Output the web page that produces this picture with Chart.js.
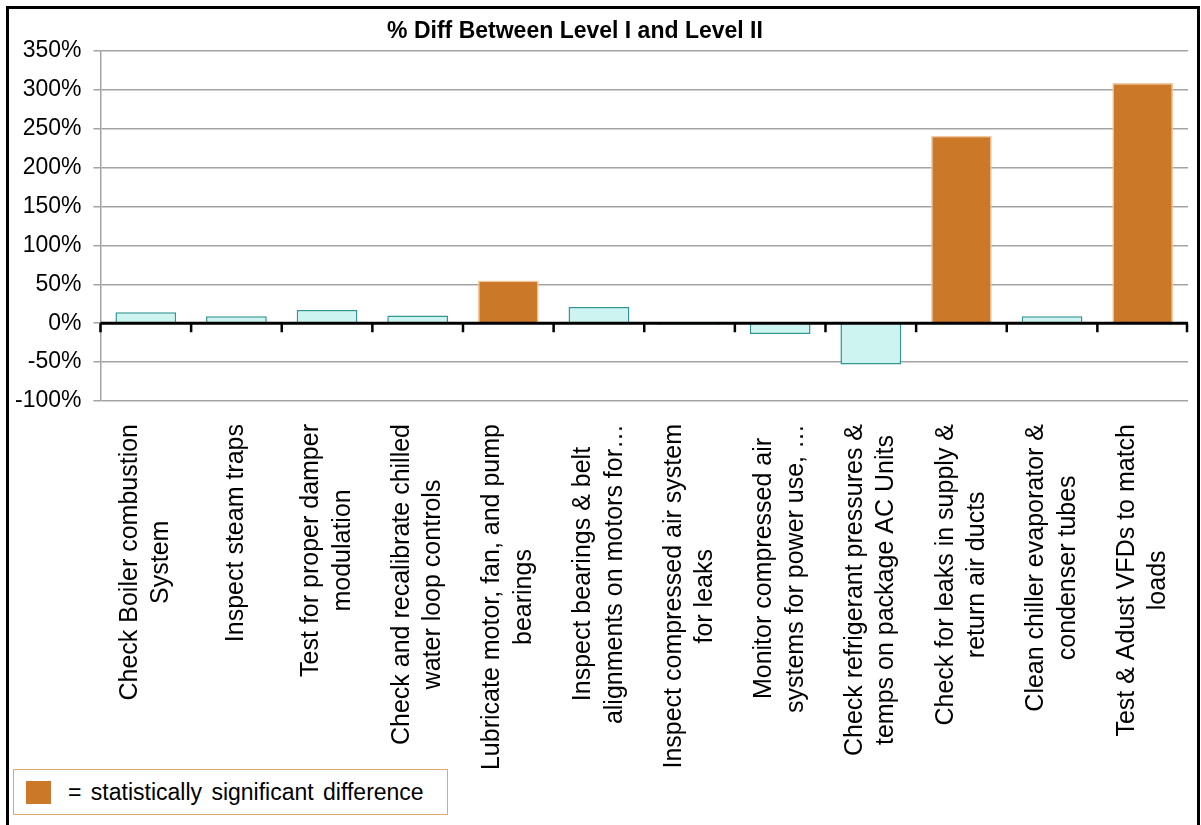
<!DOCTYPE html>
<html lang="en">
<head>
	<meta charset="utf-8">
	<title>% Diff Between Level I and Level II</title>
	<script src="https://cdn.jsdelivr.net/npm/chart.js@4.4.1/dist/chart.umd.min.js"></script>
	<style>
		body { margin: 0; background: #fff; overflow: hidden; font-family: "Liberation Sans", Arial, sans-serif; }
		#frame { position: absolute; left: 6px; top: 6px; width: 1188px; height: 900px; border: 3px solid #000; pointer-events: none; }
		#wrap { position: absolute; left: 0; top: 0; width: 1201px; height: 825px; }
		#key { position: absolute; left: 13px; top: 769px; width: 433px; height: 44px; border: 1.5px solid #e3a86e; background: #fff; }
		#key .swatch { position: absolute; left: 12px; top: 11px; width: 25px; height: 23px; background: #cb7929; }
		#key .txt { position: absolute; left: 54px; top: 9px; font-size: 23px; word-spacing: 3px; color: #000; white-space: nowrap; }
	</style>
</head>
<body>
	<div id="wrap"><canvas id="diffChart"></canvas></div>
	<div id="frame"></div>
	<div id="key"><div class="swatch"></div><div class="txt">= statistically significant difference</div></div>
	<script>
    var labels = [
    	["Check Boiler combustion", "System"],
    	["Inspect steam traps"],
    	["Test for proper damper", "modulation"],
    	["Check and recalibrate chilled", "water loop controls"],
    	["Lubricate motor, fan, and pump", "bearings"],
    	["Inspect bearings & belt", "alignments on motors for\u2026"],
    	["Inspect compressed air system", "for leaks"],
    	["Monitor compressed air", "systems for power use, \u2026"],
    	["Check refrigerant pressures &", "temps on package AC Units"],
    	["Check for leaks in supply &", "return air ducts"],
    	["Clean chiller evaporator &", "condenser tubes"],
    	["Test & Adust VFDs to match", "loads"]
    ];
    var pctDiff = [14, 9, 17, 10, 55, 21, -2, -14, -53, 241, 9, 309];
    var significant = [false, false, false, false, true, false, false, false, false, true, false, true];
    var yTicks = [-100, -50, 0, 50, 100, 150, 200, 250, 300, 350];

    var fontFamily = '"Liberation Sans", Arial, sans-serif';

    // black zero axis with category tick marks, drawn over the bars
    var zeroAxis = {
    	id: 'zeroAxis',
    	afterDatasetsDraw: function(chart) {
    		var ctx = chart.ctx;
    		var area = chart.chartArea;
    		var x = chart.scales.x;
    		var y0 = chart.scales.y.getPixelForValue(0);
    		var step = x.getPixelForValue(1) - x.getPixelForValue(0);
    		var start = x.getPixelForValue(0) - step / 2;
    		ctx.save();
    		ctx.strokeStyle = '#000';
    		ctx.lineWidth = 3;
    		ctx.beginPath();
    		ctx.moveTo(area.left, y0);
    		ctx.lineTo(area.right, y0);
    		ctx.stroke();
    		ctx.lineWidth = 2.5;
    		ctx.beginPath();
    		for (var i = 0; i <= labels.length; i++) {
    			var px = Math.min(start + i * step, area.right - 1);
    			ctx.moveTo(px, y0);
    			ctx.lineTo(px, y0 + 9);
    		}
    		ctx.stroke();
    		ctx.restore();
    	}
    };

    // vertical category labels, lines centred on each other, plus the title
    var textLayer = {
    	id: 'textLayer',
    	afterDraw: function(chart) {
    		var ctx = chart.ctx;
    		var x = chart.scales.x;
    		var y = chart.scales.y;
    		ctx.save();
    		ctx.fillStyle = '#000';
    		ctx.font = '25px ' + fontFamily;
    		ctx.textAlign = 'center';
    		ctx.textBaseline = 'middle';
    		chart.data.labels.forEach(function(lab, i) {
    			var lines = Array.isArray(lab) ? lab : [lab];
    			var w = Math.max.apply(null, lines.map(function(l) { return ctx.measureText(l).width; }));
    			var cx = x.getPixelForValue(i);
    			var midY = y.bottom + 23 + w / 2;
    			lines.forEach(function(line, j) {
    				ctx.save();
    				ctx.translate(cx + (j - (lines.length - 1) / 2) * 31.5, midY);
    				ctx.rotate(-Math.PI / 2);
    				ctx.fillText(line, 0, 0);
    				ctx.restore();
    			});
    		});
    		ctx.font = 'bold 23px ' + fontFamily;
    		ctx.fillText('% Diff Between Level I and Level II', 575, 32);
    		ctx.restore();
    	}
    };

    new Chart(document.getElementById('diffChart'), {
    	type: 'bar',
    	data: {
    		labels: labels,
    		datasets: [{
    			data: pctDiff,
    			backgroundColor: significant.map(function(s) { return s ? '#cb7929' : '#cdf4f1'; }),
    			borderColor: significant.map(function(s) { return s ? '#f0c9a2' : '#2f9790'; }),
    			borderWidth: 1.5,
    			barPercentage: 0.67,
    			categoryPercentage: 1
    		}]
    	},
    	options: {
    		responsive: true,
    		maintainAspectRatio: false,
    		animation: false,
    		layout: { padding: { left: 3, right: 13, top: 51, bottom: 424 } },
    		plugins: {
    			legend: { display: false },
    			title: { display: false },
    			tooltip: { enabled: false }
    		},
    		scales: {
    			x: { display: false },
    			y: {
    				min: -100,
    				max: 350,
    				afterBuildTicks: function(axis) {
    					axis.ticks = yTicks.map(function(v) { return { value: v }; });
    				},
    				ticks: {
    					color: '#000',
    					padding: 12,
    					font: { family: fontFamily, size: 23 },
    					callback: function(v) { return v + '%'; }
    				},
    				grid: {
    					color: function(c) { return c.tick && c.tick.value === 0 ? '#000' : '#a3a3a3'; },
    					lineWidth: 1.5,
    					tickLength: 7,
    					tickColor: '#a3a3a3',
    					tickWidth: 1.5
    				},
    				border: { display: true, color: '#a3a3a3', width: 1.5 }
    			}
    		}
    	},
    	plugins: [zeroAxis, textLayer]
    });
	</script>
</body>
</html>
